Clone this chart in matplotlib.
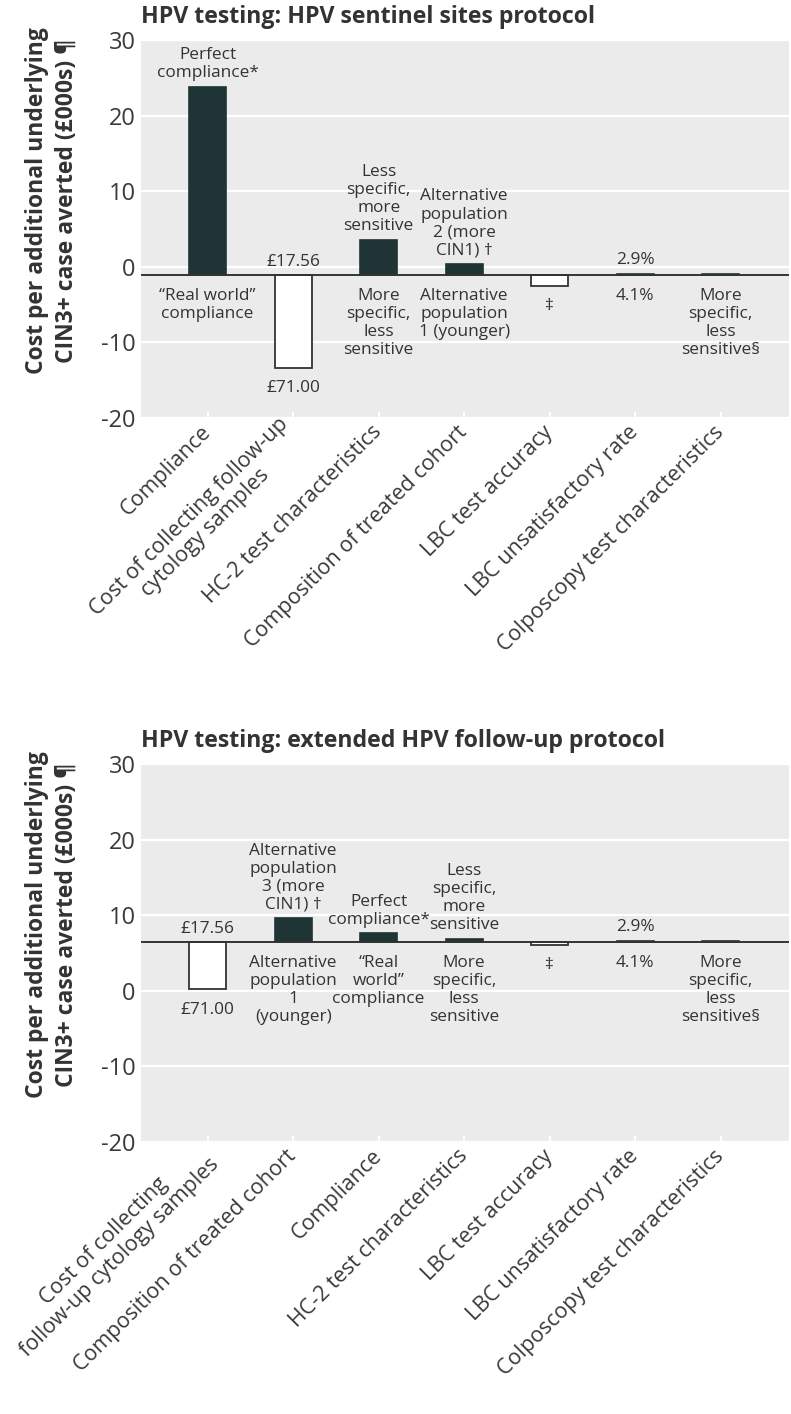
import matplotlib
matplotlib.use('Agg')
import matplotlib.pyplot as plt

plt.rcParams['font.family'] = ['Open Sans', 'DejaVu Sans']

# ---- data (values in £000s) ----
top_title = 'HPV testing: HPV sentinel sites protocol'
top_cats = ['Compliance', 'Cost of collecting follow-up\ncytology samples',
            'HC-2 test characteristics', 'Composition of treated cohort',
            'LBC test accuracy', 'LBC unsatisfactory rate',
            'Colposcopy test characteristics']
top_base = -1.1
top_high = [23.8, -1.1, 3.6, 0.35, -1.1, -0.9, -1.0]
top_low = [-1.1, -13.35, -1.1, -1.1, -2.5, -1.1, -1.1]
top_high_lab = ['Perfect\ncompliance*', '£17.56', 'Less\nspecific,\nmore\nsensitive',
                'Alternative\npopulation\n2 (more\nCIN1) †', '', '2.9%', '']
top_low_lab = ['“Real world”\ncompliance', '£71.00', 'More\nspecific,\nless\nsensitive',
               'Alternative\npopulation\n1 (younger)', '‡', '4.1%',
               'More\nspecific,\nless\nsensitive§']

bot_title = 'HPV testing: extended HPV follow-up protocol'
bot_cats = ['Cost of collecting\nfollow-up cytology samples', 'Composition of treated cohort',
            'Compliance', 'HC-2 test characteristics', 'LBC test accuracy',
            'LBC unsatisfactory rate', 'Colposcopy test characteristics']
bot_base = 6.4
bot_high = [6.4, 9.6, 7.6, 6.9, 6.4, 6.6, 6.55]
bot_low = [0.2, 6.4, 6.4, 6.4, 6.1, 6.4, 6.4]
bot_high_lab = ['£17.56', 'Alternative\npopulation\n3 (more\nCIN1) †', 'Perfect\ncompliance*',
                'Less\nspecific,\nmore\nsensitive', '', '2.9%', '']
bot_low_lab = ['£71.00', 'Alternative\npopulation\n1\n(younger)', '“Real\nworld”\ncompliance',
               'More\nspecific,\nless\nsensitive', '‡', '4.1%',
               'More\nspecific,\nless\nsensitive§']

DARK = '#1f3434'
TXT = '#333333'
W, H = 791, 1414


def draw_panel(rect, cats, base, high, low, high_lab, low_lab):
    ax = fig.add_axes(rect)
    ax.set_facecolor('#ebebeb')
    for s in ax.spines.values():
        s.set_visible(False)
    x = list(range(len(cats)))
    ax.set_xlim(-0.78, 6.8)
    ax.set_ylim(-20, 30)
    ax.set_yticks([-20, -10, 0, 10, 20, 30])
    ax.set_yticklabels(['-20', '-10', '0', '10', '20', '30'])
    ax.grid(axis='y', color='white', linewidth=1.6)
    ax.set_axisbelow(True)
    ax.tick_params(axis='y', length=0, pad=4, labelsize=17, labelcolor='#3a3a3a')
    ax.tick_params(axis='x', direction='in', length=4, width=1.5, color='white',
                   pad=8, labelsize=15.5, labelcolor='#3a3a3a')
    ax.set_xticks(x)
    ax.set_xticklabels(cats, rotation=45, ha='right', va='center',
                       rotation_mode='anchor', multialignment='center',
                       linespacing=1.1)

    for i in x:
        if abs(high[i] - base) > 0.01:
            ax.bar(i, high[i] - base, bottom=base, width=0.43, color=DARK,
                   edgecolor=DARK, linewidth=1.2, zorder=2)
        if abs(low[i] - base) > 0.01:
            ax.bar(i, low[i] - base, bottom=base, width=0.43, color='white',
                   edgecolor=TXT, linewidth=1.3, zorder=2)
        if high_lab[i]:
            ax.annotate(high_lab[i], (i, max(high[i], base)), xytext=(0, 4),
                        textcoords='offset points', ha='center', va='bottom',
                        fontsize=12.4, color=TXT, linespacing=1.17)
        if low_lab[i]:
            ax.annotate(low_lab[i], (i, min(low[i], base)), xytext=(0, -9),
                        textcoords='offset points', ha='center', va='top',
                        fontsize=12.4, color=TXT, linespacing=1.17)
    ax.axhline(base, color='#333333', linewidth=1.4, zorder=3)
    return ax


fig = plt.figure(figsize=(W / 100, H / 100), dpi=100)

ax1 = draw_panel([141 / W, 1 - 418 / H, 648 / W, 378 / H],
                 top_cats, top_base, top_high, top_low, top_high_lab, top_low_lab)
ax2 = draw_panel([141 / W, 1 - 1142 / H, 648 / W, 378 / H],
                 bot_cats, bot_base, bot_high, bot_low, bot_high_lab, bot_low_lab)

ylab = 'Cost per additional underlying\nCIN3+ case averted (£000s) ¶'
for yc in (201, 925):
    fig.text(52 / W, 1 - yc / H, ylab, rotation=90, ha='center', va='center',
             multialignment='center', fontsize=16.5, fontweight='bold', color=TXT,
             linespacing=1.3)

fig.text(141 / W, 1 - 23 / H, top_title, ha='left', va='baseline',
         fontsize=16.7, fontweight='bold', color=TXT)
fig.text(141 / W, 1 - 747 / H, bot_title, ha='left', va='baseline',
         fontsize=16.7, fontweight='bold', color=TXT)

fig.savefig('out.png', dpi=100)
